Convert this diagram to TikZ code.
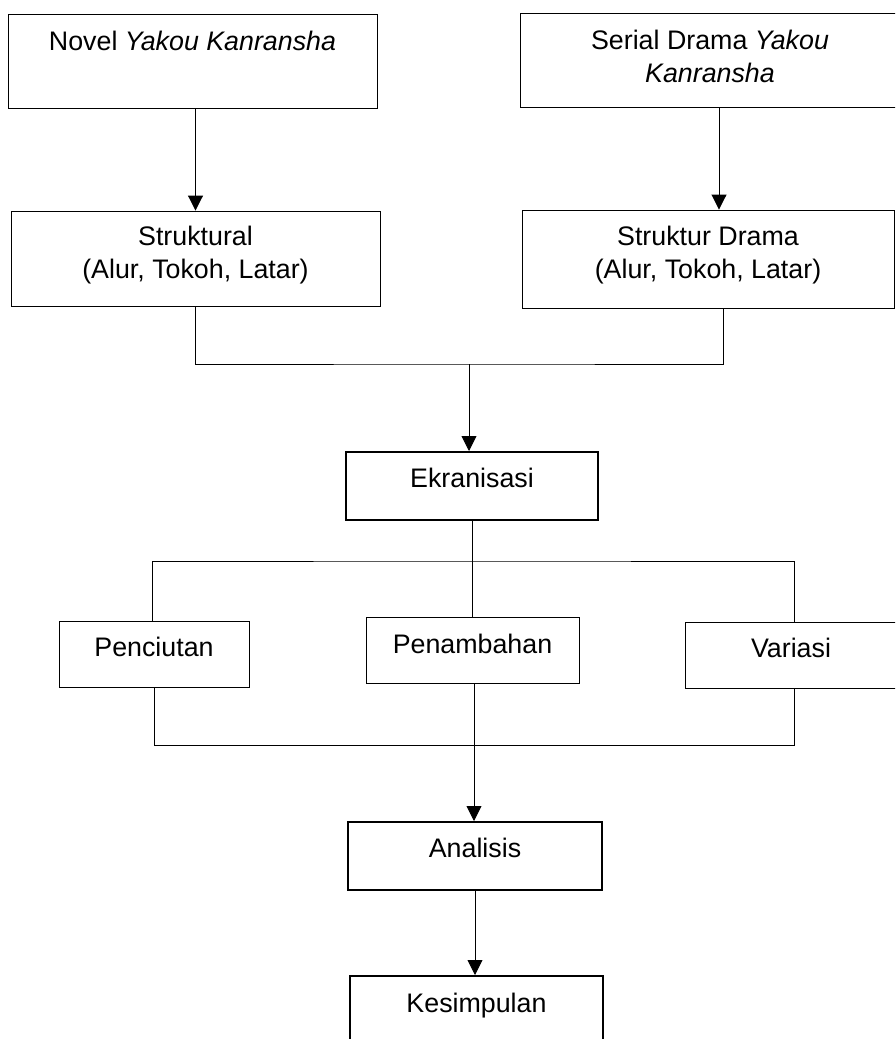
\documentclass[tikz,border=0pt]{standalone}
\usepackage{fontspec}
\setmainfont{Liberation Sans}
\usetikzlibrary{calc}
\usetikzlibrary{arrows.meta}

\begin{document}
\begin{tikzpicture}[x=1pt,y=-1pt,line width=0.9pt,
    box/.style={draw,rectangle,line width=0.9pt,inner sep=0pt,align=center,font=\fontsize{26.8}{33}\selectfont},
    boldbox/.style={box,line width=2pt},
    arrow/.style={-{Triangle[width=15pt,length=15pt]}}]
          \useasboundingbox (0,0) rectangle (895,1039);
          \clip (0,0) rectangle (895,1039);
          % sources
          \node (novel) [box,minimum width=369pt,minimum height=94pt,text height=20pt,text depth=42pt] at (192.5,61) {Novel \textit{Yakou Kanransha}};
          \node (serial) [box,minimum width=380pt,minimum height=94pt,text height=62pt,text depth=18pt] at (710,60) {Serial Drama \textit{Yakou}\\\textit{Kanransha}};
          \node (struktural) [box,minimum width=369pt,minimum height=95pt,text height=57pt,text depth=18pt] at (195.5,258.5) {Struktural\\(Alur, Tokoh, Latar)};
          \node (strukturdrama) [box,minimum width=372pt,minimum height=98pt,text height=57pt,text depth=18pt] at (708,259) {Struktur Drama\\(Alur, Tokoh, Latar)};
          \draw [arrow] (novel.south -| struktural.north) to (struktural.north);
          \draw [arrow] ($(serial.south)+(9,0)$) to ($(strukturdrama.north)+(11,0)$);
          \coordinate (merge) at (469,364);
          \draw (struktural.south) |- (merge) -| ($(strukturdrama.south)+(15,0)$);
          % ekranisasi
          \node (ekranisasi) [boldbox,minimum width=252pt,minimum height=68pt,text height=20pt,text depth=18pt] at (472,486) {Ekranisasi};
          \draw [arrow] (merge) to (merge |- ekranisasi.north);
          \node (penciutan) [box,minimum width=190pt,minimum height=66pt,text height=20pt,text depth=16pt] at (154,654) {Penciutan};
          \node (penambahan) [box,minimum width=213pt,minimum height=66pt,text height=20pt,text depth=14pt] at (472.5,650) {Penambahan};
          \node (variasi) [box,minimum width=212pt,minimum height=66pt,text height=20pt,text depth=16pt] at (791,655) {Variasi};
          \coordinate (split) at (471,561);
          \draw (ekranisasi.south) to (ekranisasi.south |- penambahan.north);
          \draw ($(penciutan.north)+(-2,0)$) |- (split) -| ($(variasi.north)+(3,0)$);
          \coordinate (join) at (474,745);
          \draw (penciutan.south) |- (join) -| ($(variasi.south)+(3,0)$);
          \draw (penambahan.south -| join) to (join);
          % analisis
          \node (analisis) [boldbox,minimum width=254pt,minimum height=68pt,text height=20pt,text depth=18pt] at (475,856) {Analisis};
          \node (kesimpulan) [boldbox,minimum width=253pt,minimum height=68pt,text height=20pt,text depth=16pt] at (476.5,1010) {Kesimpulan};
          \draw [arrow] (join) to (join |- analisis.north);
          \draw [arrow] (analisis.south) to (analisis.south |- kesimpulan.north);
        \end{tikzpicture}
\end{document}
